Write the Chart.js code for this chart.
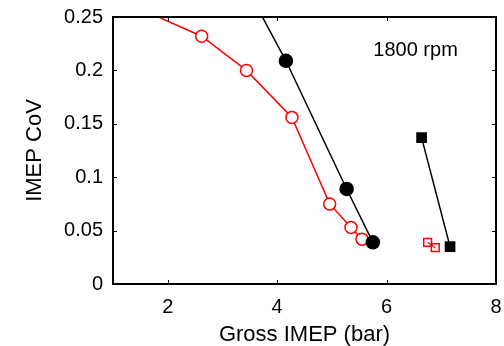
<!DOCTYPE html>
<html>
<head>
<meta charset="utf-8">
<script src="https://cdn.jsdelivr.net/npm/chart.js@4/dist/chart.umd.min.js"></script>
<style>
  html, body { margin: 0; padding: 0; background: #fff; }
  #wrap { width: 504px; height: 346px; }
</style>
</head>
<body>
<div id="wrap"><canvas id="cov"></canvas></div>
<script>
// values
const blackCircleX = [3.5, 4.16, 5.27, 5.75];
const blackCircleY = [0.272, 0.209, 0.089, 0.039];
const redCircleX = [1.3, 2.62, 3.44, 4.27, 4.96, 5.35, 5.55];
const redCircleY = [0.262, 0.232, 0.200, 0.156, 0.075, 0.053, 0.042];
const blackSquareX = [6.64, 7.16];
const blackSquareY = [0.137, 0.035];
const redSquareX = [6.75, 6.89];
const redSquareY = [0.039, 0.034];

const xTicks = [2, 4, 6, 8];
const yTicks = [0, 0.05, 0.1, 0.15, 0.2, 0.25];
const yTickLabels = ["0", "0.05", "0.1", "0.15", "0.2", "0.25"];
const noteText = "1800 rpm";
const noteAt = [6.53, 0.219];

const pts = (xs, ys) => xs.map((x, i) => ({ x: x, y: ys[i] }));
const FONT = "'Liberation Sans', Arial, sans-serif";

// MATLAB style box with inward ticks on all sides, plus the text note
const boxPlugin = {
  id: "box",
  afterDraw(chart) {
    const ctx = chart.ctx;
    const a = chart.chartArea;
    const xs = chart.scales.x, ys = chart.scales.y;
    const tl = 4;
    ctx.save();
    ctx.strokeStyle = "#000";
    ctx.lineWidth = 1;
    ctx.beginPath();
    xTicks.forEach(v => {
      const px = Math.round(xs.getPixelForValue(v)) + 0.5;
      ctx.moveTo(px, a.bottom); ctx.lineTo(px, a.bottom - tl);
      ctx.moveTo(px, a.top); ctx.lineTo(px, a.top + tl);
    });
    yTicks.forEach(v => {
      const py = Math.round(ys.getPixelForValue(v)) + 0.5;
      ctx.moveTo(a.left, py); ctx.lineTo(a.left + tl, py);
      ctx.moveTo(a.right, py); ctx.lineTo(a.right - tl, py);
    });
    ctx.stroke();
    ctx.lineWidth = 2;
    ctx.strokeRect(a.left, a.top, a.right - a.left, a.bottom - a.top);

    ctx.fillStyle = "#000";
    ctx.font = "20px " + FONT;
    ctx.textAlign = "center";
    ctx.textBaseline = "middle";
    ctx.fillText(noteText, xs.getPixelForValue(noteAt[0]), ys.getPixelForValue(noteAt[1]));
    ctx.restore();
  }
};

new Chart(document.getElementById("cov"), {
  type: "scatter",
  data: {
    datasets: [
      {
        data: pts(blackCircleX, blackCircleY),
        showLine: true,
        borderColor: "#000",
        borderWidth: 1.5,
        pointStyle: "circle",
        pointRadius: 6.5,
        pointBackgroundColor: "#000",
        pointBorderColor: "#000"
      },
      {
        data: pts(redCircleX, redCircleY),
        showLine: true,
        borderColor: "#ff0000",
        borderWidth: 1.5,
        pointStyle: "circle",
        pointRadius: 6,
        pointBorderWidth: 1.5,
        pointBackgroundColor: "#fff",
        pointBorderColor: "#ff0000"
      },
      {
        data: pts(blackSquareX, blackSquareY),
        showLine: true,
        borderColor: "#000",
        borderWidth: 1.5,
        pointStyle: "rect",
        pointRadius: 6.5,
        pointBackgroundColor: "#000",
        pointBorderColor: "#000"
      },
      {
        data: pts(redSquareX, redSquareY),
        showLine: true,
        borderColor: "#ff0000",
        borderWidth: 1.2,
        pointStyle: "rect",
        pointRadius: 5.5,
        pointBorderWidth: 1.5,
        pointBackgroundColor: "rgba(0,0,0,0)",
        pointBorderColor: "#ff0000"
      }
    ]
  },
  options: {
    responsive: true,
    maintainAspectRatio: false,
    animation: false,
    layout: { padding: { left: 0, right: 1, top: 17, bottom: 0 } },
    plugins: { legend: { display: false }, tooltip: { enabled: false } },
    elements: { line: { tension: 0 } },
    scales: {
      x: {
        type: "linear",
        min: 1,
        max: 8,
        grid: { display: false, tickLength: 0 },
        border: { display: false },
        afterBuildTicks: s => { s.ticks = xTicks.map(v => ({ value: v })); },
        afterFit: s => { s.height = 62; s.paddingLeft = 0; s.paddingRight = 0; },
        ticks: { color: "#000", font: { family: FONT, size: 20 }, padding: 11, maxRotation: 0 },
        title: { display: true, text: "Gross IMEP (bar)", color: "#000", font: { family: FONT, size: 22 }, padding: { top: 0, bottom: -2 } }
      },
      y: {
        type: "linear",
        min: 0,
        max: 0.25,
        grid: { display: false, tickLength: 0 },
        border: { display: false },
        afterBuildTicks: s => { s.ticks = yTicks.map(v => ({ value: v })); },
        afterFit: s => { s.width = 113; s.paddingTop = 0; s.paddingBottom = 0; },
        ticks: {
          color: "#000",
          font: { family: FONT, size: 20 },
          padding: 10,
          callback: (v, i) => yTickLabels[i]
        },
        title: { display: true, text: "IMEP CoV", color: "#000", font: { family: FONT, size: 22 }, padding: { top: 22, bottom: 0 } }
      }
    }
  },
  plugins: [boxPlugin]
});
</script>
</body>
</html>
